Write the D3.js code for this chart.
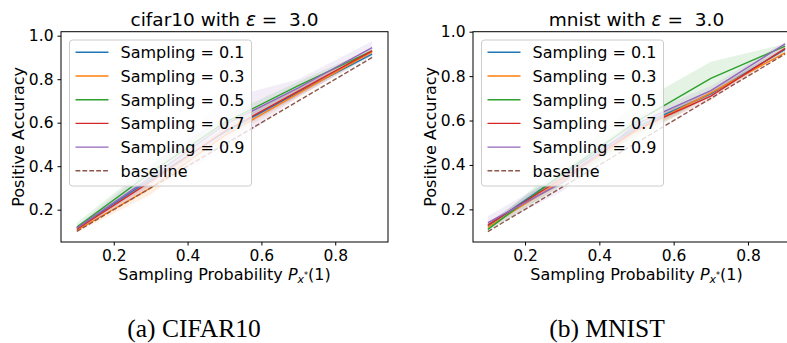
<!DOCTYPE html>
<html>
<head>
<meta charset="utf-8">
<script src="https://cdn.jsdelivr.net/npm/d3@7"></script>
<style>
  body { margin: 0; background: #fff; }
  text { font-family: "DejaVu Sans", sans-serif; fill: #000; }
</style>
</head>
<body>
<svg id="fig" width="787" height="343"></svg>
<script>
// Sampling probability P_x*(1) on the x axis
const samplingX = [0.1, 0.3, 0.5, 0.7, 0.9];
const baselineAcc = [0.1, 0.3, 0.5, 0.7, 0.9];

const seriesLabels = ["Sampling = 0.1", "Sampling = 0.3", "Sampling = 0.5", "Sampling = 0.7", "Sampling = 0.9"];
const seriesColors = ["#1f77b4", "#ff7f0e", "#2ca02c", "#d62728", "#9467bd"];
const baselineLabel = "baseline";
const baselineColor = "#8c564b";

const xTicks = [0.2, 0.4, 0.6, 0.8];
const yTicks = [0.2, 0.4, 0.6, 0.8, 1.0];

// CIFAR10, epsilon = 3.0 : mean positive accuracy and spread per sampling rate
const cifarMean = [
  [0.115, 0.34, 0.555, 0.74, 0.915],
  [0.105, 0.30, 0.54, 0.735, 0.925],
  [0.12, 0.37, 0.60, 0.77, 0.93],
  [0.11, 0.33, 0.56, 0.745, 0.93],
  [0.115, 0.35, 0.59, 0.76, 0.945]
];
const cifarStd = [
  [0.01, 0.02, 0.02, 0.02, 0.01],
  [0.01, 0.03, 0.02, 0.02, 0.01],
  [0.02, 0.04, 0.03, 0.02, 0.01],
  [0.01, 0.02, 0.02, 0.02, 0.01],
  [0.01, 0.05, 0.12, 0.04, 0.03]
];

// MNIST, epsilon = 3.0
const mnistMean = [
  [0.125, 0.355, 0.57, 0.72, 0.92],
  [0.12, 0.33, 0.555, 0.725, 0.905],
  [0.11, 0.36, 0.595, 0.79, 0.935],
  [0.13, 0.34, 0.56, 0.71, 0.925],
  [0.14, 0.32, 0.585, 0.735, 0.945]
];
const mnistStd = [
  [0.015, 0.02, 0.02, 0.015, 0.01],
  [0.01, 0.02, 0.02, 0.015, 0.01],
  [0.01, 0.05, 0.08, 0.075, 0.01],
  [0.01, 0.02, 0.02, 0.02, 0.01],
  [0.03, 0.04, 0.03, 0.02, 0.01]
];

const panels = [
  {
    dataset: "cifar10", eps: "3.0", caption: "(a) CIFAR10", captionX: 194,
    mean: cifarMean, std: cifarStd,
    box: { left: 61, right: 388, top: 31.7, bottom: 242 },
    xDomain: [0.057, 0.943], yDomain: [0.0515, 1.0184], ylabelX: 24
  },
  {
    dataset: "mnist", eps: "3.0", caption: "(b) MNIST", captionX: 607,
    mean: mnistMean, std: mnistStd,
    box: { left: 473, right: 800, top: 31.7, bottom: 242 },
    xDomain: [0.06, 0.94], yDomain: [0.053, 1.0], ylabelX: 436
  }
];

const svg = d3.select("#fig");

function drawPanel(p) {
  const g = svg.append("g");
  const x = d3.scaleLinear().domain(p.xDomain).range([p.box.left, p.box.right]);
  const y = d3.scaleLinear().domain(p.yDomain).range([p.box.bottom, p.box.top]);

  const clipId = "clip-" + p.dataset;
  g.append("clipPath").attr("id", clipId).append("rect")
    .attr("x", p.box.left).attr("y", p.box.top)
    .attr("width", p.box.right - p.box.left).attr("height", p.box.bottom - p.box.top);

  const plot = g.append("g").attr("clip-path", `url(#${clipId})`);

  const area = d3.area()
    .x(d => x(d.x)).y0(d => y(d.lo)).y1(d => y(d.hi));
  const line = d3.line().x(d => x(d.x)).y(d => y(d.y));

  p.mean.forEach((m, i) => {
    const pts = samplingX.map((sx, k) => ({ x: sx, y: m[k], lo: m[k] - p.std[i][k], hi: m[k] + p.std[i][k] }));
    plot.append("path").datum(pts).attr("d", area)
      .attr("fill", seriesColors[i]).attr("fill-opacity", 0.12).attr("stroke", "none");
  });
  p.mean.forEach((m, i) => {
    const pts = samplingX.map((sx, k) => ({ x: sx, y: m[k] }));
    plot.append("path").datum(pts).attr("d", line)
      .attr("fill", "none").attr("stroke", seriesColors[i]).attr("stroke-width", 1.4);
  });
  plot.append("path")
    .datum(samplingX.map((sx, k) => ({ x: sx, y: baselineAcc[k] })))
    .attr("d", line).attr("fill", "none")
    .attr("stroke", baselineColor).attr("stroke-width", 1.4)
    .attr("stroke-dasharray", "4.8,2.1");

  // axes
  const xAxis = g.append("g").attr("transform", `translate(0,${p.box.bottom})`)
    .call(d3.axisBottom(x).tickValues(xTicks).tickFormat(d3.format(".1f")).tickSize(3.5).tickPadding(4));
  const yAxis = g.append("g").attr("transform", `translate(${p.box.left},0)`)
    .call(d3.axisLeft(y).tickValues(yTicks).tickFormat(d3.format(".1f")).tickSize(3.5).tickPadding(4));
  [xAxis, yAxis].forEach(a => {
    a.select(".domain").remove();
    a.selectAll(".tick line").attr("stroke", "#000").attr("stroke-width", 1);
    a.selectAll(".tick text").style("font-size", "15.5px").attr("fill", "#000");
  });
  g.append("rect")
    .attr("x", p.box.left).attr("y", p.box.top)
    .attr("width", p.box.right - p.box.left).attr("height", p.box.bottom - p.box.top)
    .attr("fill", "none").attr("stroke", "#000").attr("stroke-width", 1);

  const cx = (p.box.left + p.box.right) / 2;
  const cy = (p.box.top + p.box.bottom) / 2;

  // title
  const t = g.append("text").attr("x", cx).attr("y", 26)
    .attr("text-anchor", "middle").style("font-size", "18.5px").style("white-space", "pre");
  t.append("tspan").text(p.dataset + " with ");
  t.append("tspan").style("font-style", "italic").text("\u03b5");
  t.append("tspan").text(" =  " + p.eps);

  // x label
  const xl = g.append("text").attr("x", cx).attr("y", 280)
    .attr("text-anchor", "middle").style("font-size", "16px").style("white-space", "pre");
  xl.append("tspan").text("Sampling Probability ");
  xl.append("tspan").style("font-style", "italic").text("P");
  xl.append("tspan").style("font-style", "italic").style("font-size", "11px").attr("dy", 3).text("x");
  xl.append("tspan").style("font-size", "8px").attr("dy", -5).text("*");
  xl.append("tspan").attr("dy", 2).text("(1)");

  // y label
  g.append("text").attr("transform", `translate(${p.ylabelX},${cy}) rotate(-90)`)
    .attr("text-anchor", "middle").style("font-size", "16px").text("Positive Accuracy");

  // legend
  const lg = g.append("g");
  const lx = p.box.left + 8.5, ly = 40;
  lg.append("rect").attr("x", lx).attr("y", ly).attr("width", 182).attr("height", 146)
    .attr("rx", 3).attr("fill", "#fff").attr("fill-opacity", 0.8)
    .attr("stroke", "#cccccc").attr("stroke-width", 1);
  const entries = seriesLabels.map((l, i) => ({ label: l, color: seriesColors[i], dash: null }))
    .concat([{ label: baselineLabel, color: baselineColor, dash: "4.8,2.1" }]);
  entries.forEach((e, i) => {
    const ry = 52.3 + i * 23.7;
    lg.append("line").attr("x1", lx + 6).attr("x2", lx + 39).attr("y1", ry).attr("y2", ry)
      .attr("stroke", e.color).attr("stroke-width", 1.4)
      .attr("stroke-dasharray", e.dash);
    lg.append("text").attr("x", lx + 51).attr("y", ry + 5.8)
      .style("font-size", "16px").text(e.label);
  });

  // subfigure caption
  svg.append("text").attr("x", p.captionX).attr("y", 336.5)
    .attr("text-anchor", "middle")
    .style("font-family", "'Liberation Serif', serif").style("font-size", "25.5px")
    .text(p.caption);
}

panels.forEach(drawPanel);
</script>
</body>
</html>
